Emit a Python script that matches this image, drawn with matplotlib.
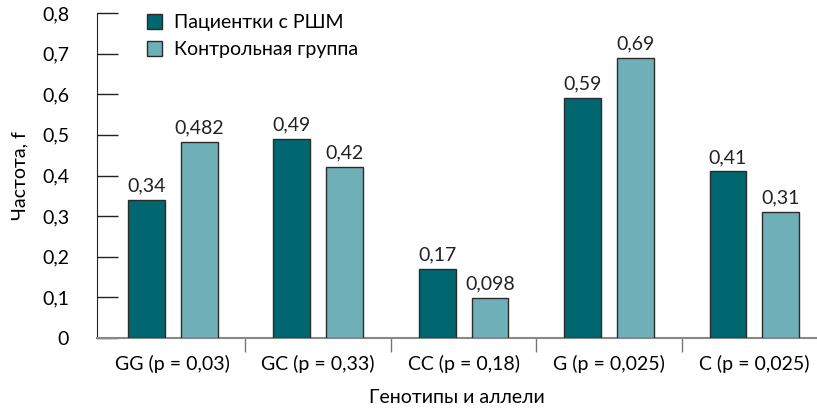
import matplotlib
matplotlib.use("Agg")
import matplotlib.pyplot as plt
import numpy as np
from matplotlib.ticker import FixedLocator, FuncFormatter

categories = ["GG (p = 0,03)", "GC (p = 0,33)", "CC (p = 0,18)", "G (p = 0,025)", "C (p = 0,025)"]
patients = [0.34, 0.49, 0.17, 0.59, 0.41]
controls = [0.482, 0.42, 0.098, 0.69, 0.31]
patient_labels = ["0,34", "0,49", "0,17", "0,59", "0,41"]
control_labels = ["0,482", "0,42", "0,098", "0,69", "0,31"]
series_names = ["Пациентки с РШМ", "Контрольная группа"]

plt.rcParams['font.family'] = ['Lato', 'DejaVu Sans']
dark = "#006670"
light = "#6FAFB7"
edge = "#2b2b2b"
fs = 14

fig = plt.figure(figsize=(8.17, 4.16), dpi=100)
ax = fig.add_axes([97/817, 78/416, 720/817, 325/416])

x = np.arange(len(categories))
off = 0.182
w = 0.254
ax.bar(x - off, patients, w, color=dark, edgecolor=edge, linewidth=1, label=series_names[0], zorder=3)
ax.bar(x + off, controls, w, color=light, edgecolor=edge, linewidth=1, label=series_names[1], zorder=3)

for xi, v, t in zip(x - off, patients, patient_labels):
    ax.annotate(t, (xi, v), xytext=(0, 4), textcoords="offset points", ha="center", va="bottom", fontsize=fs, color="#222222")
for xi, v, t in zip(x + off, controls, control_labels):
    ax.annotate(t, (xi, v), xytext=(0, 4), textcoords="offset points", ha="center", va="bottom", fontsize=fs, color="#222222")

ax.set_xlim(-0.52, 4.43)
ax.set_ylim(0, 0.8)
ax.set_yticks(np.arange(0, 0.81, 0.1))
ax.yaxis.set_major_formatter(FuncFormatter(lambda v, p: "0" if abs(v) < 1e-9 else f"{v:.1f}".replace(".", ",")))
ax.tick_params(axis='y', direction='in', length=15, width=1, color="#222222", labelsize=fs, pad=20)

ax.set_xticks(x)
ax.set_xticklabels(categories)
ax.xaxis.set_minor_locator(FixedLocator(x[:-1] + 0.5))
ax.tick_params(axis='x', which='major', length=0, labelsize=fs, pad=12)
ax.tick_params(axis='x', which='minor', direction='out', length=10, width=1, color="#777777")

for s in ["top", "right"]:
    ax.spines[s].set_visible(False)
ax.spines["left"].set_color("#222222")
ax.spines["bottom"].set_color("#888888")
ax.spines["bottom"].set_linewidth(1.5)

ax.set_ylabel("Частота, f", fontsize=fs, labelpad=10)
ax.set_xlabel("Генотипы и аллели", fontsize=fs, labelpad=12)

ax.legend(loc="upper left", bbox_to_anchor=(0.045, 1.05), frameon=False, fontsize=fs,
          handlelength=0.8, handleheight=0.8, handletextpad=0.6, labelspacing=0.5)

fig.savefig("out.png", dpi=100)
